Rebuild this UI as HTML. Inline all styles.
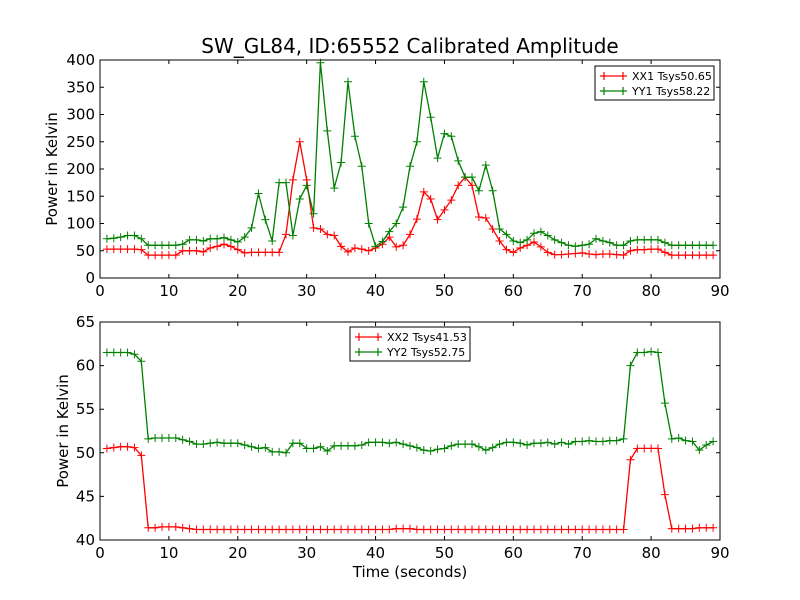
<!DOCTYPE html>
<html><head><meta charset="utf-8"><style>
body{margin:0;background:#fff;}
svg{display:block;font-family:"DejaVu Sans","Liberation Sans",sans-serif;}
</style></head><body>
<svg id="chart" width="800" height="600" xmlns="http://www.w3.org/2000/svg">
<rect width="800" height="600" fill="#fff"/>
<text x="410" y="53" font-size="20" text-anchor="middle">SW_GL84, ID:65552 Calibrated Amplitude</text>
<text transform="translate(57,169) rotate(-90)" font-size="15" text-anchor="middle">Power in Kelvin</text>
<text transform="translate(68,431) rotate(-90)" font-size="15" text-anchor="middle">Power in Kelvin</text>
<text x="410" y="577" font-size="15" text-anchor="middle">Time (seconds)</text>
<g id="g"></g>
</svg>
<script>
const times = Array.from({length:89},(_,i)=>i+1);
const xx1 = [53,53,53,53,53,52,42,42,42,42,42,50,50,50,48,55,58,62,58,52,46,47,47,47,47,47,80,180,250,180,92,90,80,78,58,48,55,53,50,55,62,75,57,60,80,108,158,145,107,125,143,170,185,170,112,110,90,68,52,47,55,60,66,57,47,43,43,44,45,46,44,43,44,44,43,42,50,52,52,53,53,47,42,42,42,42,42,42,42];
const yy1 = [72,73,75,78,78,72,60,60,60,60,60,62,70,70,68,72,72,74,70,66,75,92,155,107,68,175,175,78,145,170,118,395,270,165,212,360,260,205,100,58,67,85,100,130,205,250,360,295,220,265,260,215,185,185,160,207,160,90,80,68,65,70,82,85,78,70,65,60,58,60,62,72,68,65,60,60,68,70,70,70,70,65,60,60,60,60,60,60,60];
const xx2 = [50.5,50.6,50.7,50.7,50.6,49.7,41.4,41.4,41.5,41.5,41.5,41.4,41.3,41.2,41.2,41.2,41.2,41.2,41.2,41.2,41.2,41.2,41.2,41.2,41.2,41.2,41.2,41.2,41.2,41.2,41.2,41.2,41.2,41.2,41.2,41.2,41.2,41.2,41.2,41.2,41.2,41.2,41.3,41.3,41.3,41.2,41.2,41.2,41.2,41.2,41.2,41.2,41.2,41.2,41.2,41.2,41.2,41.2,41.2,41.2,41.2,41.2,41.2,41.2,41.2,41.2,41.2,41.2,41.2,41.2,41.2,41.2,41.2,41.2,41.2,41.2,49.2,50.5,50.5,50.5,50.5,45.2,41.3,41.3,41.3,41.3,41.4,41.4,41.4];
const yy2 = [61.5,61.5,61.5,61.5,61.3,60.5,51.6,51.7,51.7,51.7,51.7,51.5,51.3,51,51,51.1,51.2,51.1,51.1,51.1,50.9,50.7,50.5,50.6,50.1,50.1,50,51.1,51.1,50.5,50.5,50.7,50.2,50.8,50.8,50.8,50.8,50.9,51.2,51.2,51.2,51.1,51.2,51,50.8,50.6,50.3,50.2,50.4,50.5,50.8,51,51,51,50.7,50.3,50.6,51,51.2,51.2,51.1,50.9,51.1,51.1,51.2,51,51.2,51,51.3,51.3,51.4,51.3,51.3,51.4,51.4,51.6,60,61.5,61.5,61.6,61.5,55.7,51.6,51.7,51.4,51.3,50.3,50.9,51.3];
const xTicks = [0,10,20,30,40,50,60,70,80,90];
const yTicksTop = [0,50,100,150,200,250,300,350,400];
const yTicksBot = [40,45,50,55,60,65];
const legendTop = ["XX1 Tsys50.65","YY1 Tsys58.22"];
const legendBot = ["XX2 Tsys41.53","YY2 Tsys52.75"];

const NS="http://www.w3.org/2000/svg";
const g=document.getElementById('g');
function mk(t,a,p){const e=document.createElementNS(NS,t);for(const k in a)e.setAttribute(k,a[k]);(p||g).appendChild(e);return e;}
const L=100,R=720;
const xs=v=>L+(v-0)/90*(R-L);

function panel(top,bot,ymin,ymax,yt,s1,s2,names,lg,prefix){
  const ys=v=>bot-(v-ymin)/(ymax-ymin)*(bot-top);
  const grp=mk('g',{});
  
  
  [[s1,'#ff0000',names[0]],[s2,'#008000',names[1]]].forEach(([s,c,n])=>{
    const pts=s.map((v,i)=>xs(times[i]).toFixed(1)+','+ys(v).toFixed(1)).join(' ');
    const pl=mk('polyline',{points:pts,fill:'none',stroke:c,'stroke-width':1.3},grp);
    
    
    let d='';
    s.forEach((v,i)=>{const x=xs(times[i]),y=ys(v);d+=`M${x-4},${y}h8M${x},${y-4}v8`;});
    const m=mk('path',{d:d,stroke:c,'stroke-width':1,fill:'none'},grp);
    
    
  });
  const fr=mk('rect',{x:L,y:top,width:R-L,height:bot-top,fill:'none',stroke:'#000','stroke-width':1},grp);
  
  
  xTicks.forEach(t=>{
    const x=xs(t);
    mk('path',{d:`M${x},${bot}v-4M${x},${top}v4`,stroke:'#000'},grp);
    const tx=mk('text',{x:x,y:bot+18,'font-size':15,'text-anchor':'middle'},grp);tx.textContent=t;
    
    
  });
  yt.forEach(t=>{
    const y=ys(t);
    mk('path',{d:`M${L},${y}h4M${R},${y}h-4`,stroke:'#000'},grp);
    const tx=mk('text',{x:L-5,y:y+5,'font-size':15,'text-anchor':'end'},grp);tx.textContent=t;
    
    
  });
  const lgG=mk('g',{},grp);
  
  
  mk('rect',{x:lg[0],y:lg[1],width:lg[2],height:34,fill:'#fff',stroke:'#000'},lgG);
  ['#ff0000','#008000'].forEach((c,i)=>{
    const yy=lg[1]+10+i*15, x0=lg[0]+5;
    mk('path',{d:`M${x0},${yy}h27M${x0+4},${yy-4}v8M${x0+23},${yy-4}v8`,stroke:c,'stroke-width':1.2},lgG);
    const tx=mk('text',{x:x0+32,y:yy+4,'font-size':11},lgG);tx.textContent=lg[3][i];
    
    
  });
}
panel(60,278,0,400,yTicksTop,xx1,yy1,['xx1','yy1'],[595,66,119,legendTop],'top');
panel(322,540,40,65,yTicksBot,xx2,yy2,['xx2','yy2'],[350,327,120,legendBot],'bottom');
</script>
</body></html>
